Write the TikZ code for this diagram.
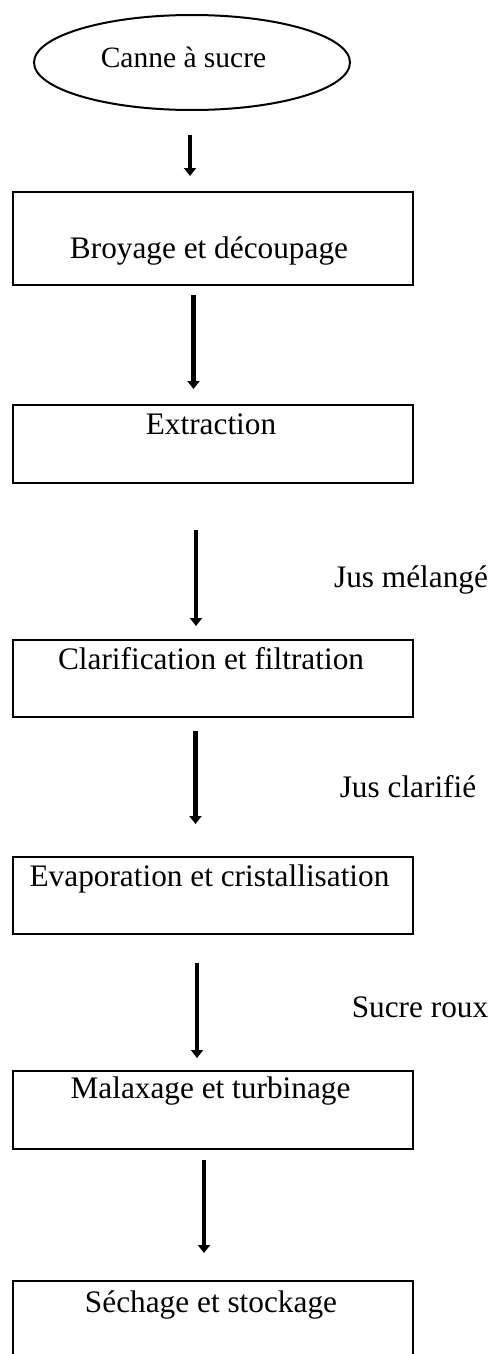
\documentclass[tikz,border=0pt]{standalone}
\usepackage{fontspec}
\setmainfont{Liberation Serif}
\usetikzlibrary{shapes.geometric,arrows.meta}
\tikzset{
  procbox/.style={draw, line width=2pt, rectangle, inner sep=0pt, anchor=north west},
  txt/.style={anchor=base, inner sep=0pt, font=\fontsize{31.3}{36}\selectfont},
  flow/.style={line width=4.8pt, -{Triangle[width=12pt,length=8pt]}}
}
\begin{document}
\begin{tikzpicture}[x=1pt,y=-1pt]
\useasboundingbox (0,0) rectangle (496,1354);
% start ellipse
\node[ellipse, draw, line width=2pt, minimum width=316pt, minimum height=95pt, inner sep=0pt] (e) at (192,62.5) {};
\node[txt, font=\fontsize{29.5}{34}\selectfont] (te) at (183.5,67) {Canne à sucre};
% boxes
\node[procbox, minimum width=400pt, minimum height=93pt] (b1) at (12,191) {};
\node[procbox, minimum width=400pt, minimum height=78pt] (b2) at (12,404) {};
\node[procbox, minimum width=400pt, minimum height=77pt] (b3) at (12,639) {};
\node[procbox, minimum width=400pt, minimum height=77pt] (b4) at (12,856) {};
\node[procbox, minimum width=400pt, minimum height=78pt] (b5) at (12,1070) {};
\node[procbox, minimum width=400pt, minimum height=84pt] (b6) at (12,1280) {};
% texts
\node[txt] (t1) at (209,258) {Broyage et découpage};
\node[txt] (t2) at (211,434) {Extraction};
\node[txt] (t3) at (211,669) {Clarification et filtration};
\node[txt] (t4) at (209.5,886) {Evaporation et cristallisation};
\node[txt] (t5) at (210.5,1098) {Malaxage et turbinage};
\node[txt] (t6) at (211,1312) {Séchage et stockage};
% labels
\node[txt] (l1) at (411,587) {Jus mélangé};
\node[txt] (l2) at (408,797) {Jus clarifié};
\node[txt] (l3) at (420,1017) {Sucre roux};
% arrow end points
\coordinate (a1s) at (190,135);  \coordinate (a1e) at (190,176);
\coordinate (a2s) at (193.5,295); \coordinate (a2e) at (193.5,389);
\coordinate (a3s) at (196,530);  \coordinate (a3e) at (196,626);
\coordinate (a4s) at (195.5,731); \coordinate (a4e) at (195.5,824);
\coordinate (a5s) at (197,963);  \coordinate (a5e) at (197,1058);
\coordinate (a6s) at (204,1160); \coordinate (a6e) at (204,1253);
\draw[flow] (a1s) -- (a1e);
\draw[flow] (a2s) -- (a2e);
\draw[flow] (a3s) -- (a3e);
\draw[flow] (a4s) -- (a4e);
\draw[flow] (a5s) -- (a5e);
\draw[flow] (a6s) -- (a6e);
\end{tikzpicture}
\end{document}
